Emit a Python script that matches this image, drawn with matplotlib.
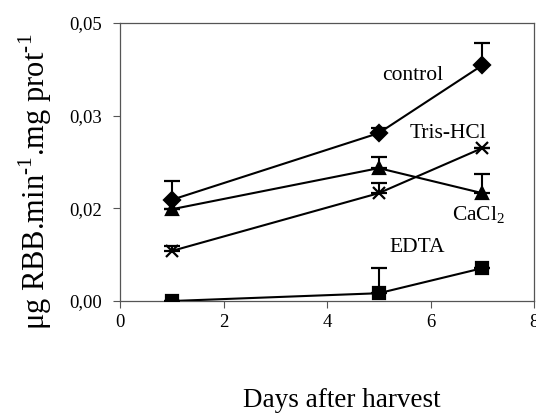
import numpy as np
import matplotlib.pyplot as plt
import matplotlib.ticker as mticker

plt.rcParams["font.family"] = ["Liberation Serif", "DejaVu Serif"]
plt.rcParams["mathtext.fontset"] = "custom"
plt.rcParams["mathtext.rm"] = "Liberation Serif"

days = [1, 5, 7]

control = [0.0182, 0.0302, 0.0424]
control_err = [0.0034, 0.0009, 0.0040]

cacl2 = [0.0165, 0.0239, 0.0194]
cacl2_err = [0.0000, 0.0020, 0.0034]

tris = [0.0090, 0.0194, 0.0275]
tris_err = [0.0009, 0.0018, 0.0000]

edta = [0.0000, 0.0014, 0.0059]
edta_err = [0.0000, 0.0045, 0.0000]

fig = plt.figure(figsize=(5.36, 4.16), dpi=100)
ax = fig.add_axes([0.2239, 0.2764, 0.7724, 0.6683])

series = [
    (control, control_err, "D", 8),
    (cacl2, cacl2_err, "^", 9),
    (tris, tris_err, "x", 9),
    (edta, edta_err, "s", 9),
]
for vals, err, mk, ms in series:
    ax.errorbar(days, vals, yerr=[np.zeros(len(err)), err],
                color="black", marker=mk, markersize=ms, mew=1.6,
                lw=1.5, capsize=5.5, elinewidth=1.5, capthick=1.5,
                zorder=3)

ax.text(5.66, 0.0405, "control", fontsize=15.5, ha="center", va="center")
ax.text(6.34, 0.0302, "Tris-HCl", fontsize=15.5, ha="center", va="center")
ax.text(6.92, 0.0155, r"CaCl$_\mathrm{2}$", fontsize=15.5, ha="center", va="center")
ax.text(5.74, 0.0097, "EDTA", fontsize=15.5, ha="center", va="center")

ax.set_xlim(0, 8)
ax.set_ylim(0, 0.05)
ax.set_xticks([0, 2, 4, 6, 8])
ax.set_yticks(np.linspace(0, 0.05, 4))
ax.yaxis.set_major_formatter(
    mticker.FuncFormatter(lambda v, p: f"{v:.2f}".replace(".", ",")))
ax.tick_params(direction="out", length=5, width=0.8, color="#555555",
               labelsize=13.5)
ax.tick_params(axis="y", pad=8)
ax.tick_params(axis="x", pad=4)
for s in ax.spines.values():
    s.set_color("#555555")
    s.set_linewidth(0.9)

fig.text(0.638, 0.038, "Days after harvest", fontsize=19.5,
         ha="center", va="center")
fig.text(0.066, 0.564, "μg RBB.min$^{\\mathrm{\u2010 1}}$.mg prot$^{\\mathrm{\u2010 1}}$",
         fontsize=22, rotation=90, ha="center", va="center")

fig.savefig("out.png", dpi=100)
